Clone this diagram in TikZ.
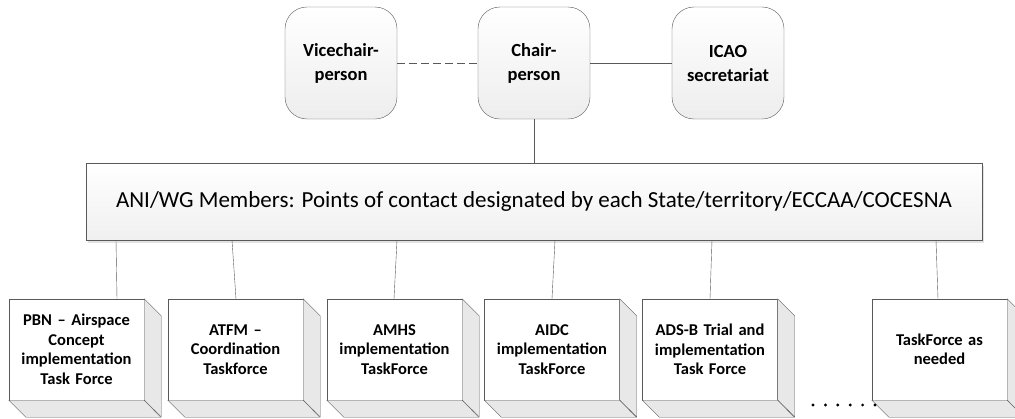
\documentclass[tikz,border=0pt]{standalone}
\usepackage{fontspec}
\setmainfont{Carlito}
\usetikzlibrary{positioning,calc,shadows}
\definecolor{edgegray}{HTML}{595959}
\definecolor{sidegray}{HTML}{E8E8E8}

\tikzset{
  rolebox/.style={draw=edgegray, rounded corners=22pt, minimum width=112pt, minimum height=112pt,
    top color=white, bottom color=gray!14, align=center, font=\fontsize{18.5}{24}\selectfont\bfseries},
  groupbox/.style={draw=edgegray, minimum width=896pt, minimum height=77pt, top color=white,
    bottom color=gray!12, drop shadow={shadow xshift=2pt, shadow yshift=-3pt, fill=gray!45},
    font=\fontsize{23}{27}\selectfont},
  taskbox/.style={draw=edgegray, fill=white, minimum width=135pt, minimum height=101pt, align=center,
    text width=125pt, font=\fontsize{16.5}{19.5}\selectfont\bfseries},
  link/.style={draw=edgegray}
}

\begin{document}
\begin{tikzpicture}[x=1pt,y=-1pt]
    \useasboundingbox (0,0) rectangle (1015,418);
    \clip (0,0) rectangle (1015,418);
    % chair and neighbours
    \node[rolebox] (vice) at (341,63) {Vicechair-\\person};
    \node[rolebox] (chair) at (534,63) {Chair-\\person};
    \node[rolebox] (icao) at (728,63) {ICAO\\secretariat};
    \draw[link, dash pattern=on 8pt off 4pt] (vice) -- (chair);
    \draw[link] (chair) -- (icao);
    % members
    \node[groupbox] (members) at (534,201.5) {ANI/WG Members: Points of contact designated by each State/territory/ECCAA/COCESNA};
    \draw[link] (chair.south) -- (chair.south |- members.north);
    % task forces
    \node[taskbox] (tf1) at (76.5,349.5) {PBN -- Airspace\\Concept\\implementation\\Task Force};
    \node[taskbox] (tf2) at (235.5,349.5) {ATFM --\\Coordination\\Taskforce};
    \node[taskbox] (tf3) at (394.5,349.5) {AMHS\\implementation\\TaskForce};
    \node[taskbox] (tf4) at (552,349.5) {AIDC\\implementation\\TaskForce};
    \node[taskbox] (tf5) at (710,349.5) {ADS-B Trial and\\implementation\\Task Force};
    \node[taskbox] (tf6) at (939.5,349.5) {TaskForce as\\needed};
    \foreach \t in {tf1,tf2,tf3,tf4,tf5,tf6} {
        \filldraw[draw=edgegray, fill=sidegray] (\t.north east) -- ++(17,17) -- ++(0,101) -- (\t.south east) -- cycle;
        \filldraw[draw=edgegray, fill=sidegray] (\t.south west) -- ++(17,17) -- ++(135,0) -- (\t.south east) -- cycle;
    }
    \draw[link] (members.south -| 116,0) -- (tf1.north -| 117,0);
    \draw[link] (members.south -| 232,0) -- (tf2.north -| 236,0);
    \draw[link] (members.south -| 397,0) -- (tf3.north -| 394,0);
    \draw[link] (members.south -| 555,0) -- (tf4.north -| 552,0);
    \draw[link] (members.south -| 712,0) -- (tf5.north -| 710,0);
    \draw[link] (members.south -| 936,0) -- (tf6.north -| 938,0);
    % more to come
    \foreach \i in {0,...,5}
        \fill ({813+\i*12.4},405) circle (1.6);
\end{tikzpicture}
\end{document}
